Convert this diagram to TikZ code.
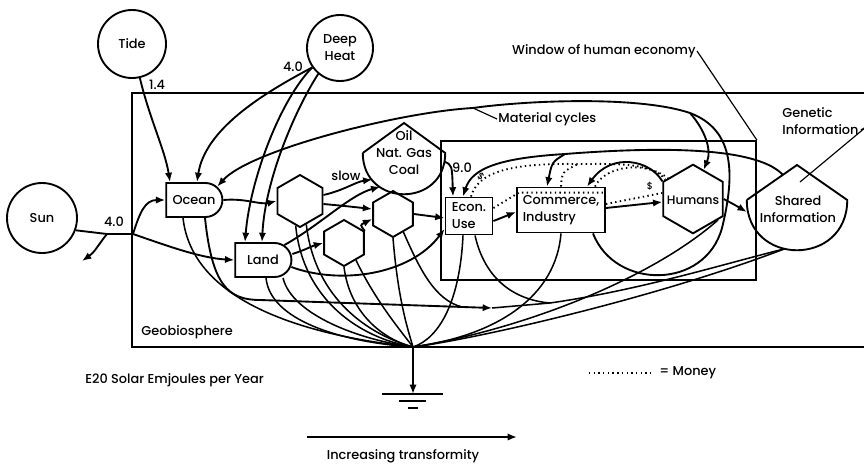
\documentclass[tikz,border=0pt]{standalone}
\usepackage{fontspec}
\setmainfont{Poppins}[UprightFont=*-Medium]
\usetikzlibrary{arrows.meta,positioning,calc,shapes.geometric,shapes.misc}
\newcommand\figfont{\fontsize{11}{14.5}\selectfont}
\tikzset{
  source/.style={
    draw,
    circle,
    line width=1.6pt,
    inner sep=0pt,
    align=center,
    font=\figfont
  },
  producer/.style={
    draw,
    rounded rectangle,
    rounded rectangle left arc=none,
    minimum width=19.2mm,
    minimum height=10.2mm,
    line width=1.6pt,
    font=\figfont
  },
  consumer/.style={
    draw,
    regular polygon,
    regular polygon sides=6,
    shape border rotate=30,
    inner sep=0pt,
    line width=1.6pt,
    font=\figfont
  },
  unitbox/.style={
    draw,
    rectangle,
    align=left,
    inner sep=2pt,
    line width=1.6pt,
    font=\figfont
  },
  tank/.style={circle, inner sep=0pt, align=center, font=\figfont},
  frame/.style={draw, rectangle, inner sep=0pt, line width=1.5pt},
  flow/.style={-{Latex[length=2.8mm,width=2.2mm]}, line width=1.6pt},
  plain/.style={line width=1.6pt},
  wire/.style={line width=1.3pt},
  lead/.style={line width=1pt},
  money/.style={line width=1.6pt, dash pattern=on 1.2pt off 2.8pt},
  lbl/.style={font=\figfont, inner sep=1pt}
}

\begin{document}
\begin{tikzpicture}[x=0.3mm, y=-0.3mm]
  \useasboundingbox (0,0) rectangle (864,464);

  % frames
  \node[frame, minimum width=221.4mm, minimum height=76.2mm] (geo) at (501,220) {};
  \node[frame, minimum width=94.5mm, minimum height=41.7mm] (window) at (598.5,210.5) {};

  % sources
  \node[source, minimum size=20.4mm] (tide) at (132,44) {Tide};
  \node[source, minimum size=19.8mm] (deep) at (340,48) {Deep\\Heat};
  \node[source, minimum size=21mm] (sun) at (42,218) {Sun};

  % producers, consumers, storages
  \node[producer] (ocean) at (194,200) {Ocean};
  \node[producer] (land) at (263,260) {Land};
  \node[consumer, minimum size=15.6mm] (hexa) at (300,201) {};
  \node[consumer, minimum size=13.8mm] (hexb) at (344,243) {};
  \node[consumer, minimum size=13.8mm] (hexc) at (393,214) {};
  \node[tank, minimum size=24.6mm] (oil) at (404,153) {Oil\\Nat. Gas\\Coal};
  \draw[plain] (oil.west) -- ([shift={(0,-30)}]oil.center) -- (oil.east)
    .. controls ([shift={(0,55)}]oil.east) and ([shift={(0,55)}]oil.west) .. (oil.west);
  \node[unitbox, minimum width=14.1mm, minimum height=11.1mm] (econ) at (469,216) {Econ.\\Use};
  \node[unitbox, minimum width=26.4mm, minimum height=13.5mm] (comm) at (561,210) {Commerce,\\Industry};
  \node[consumer, minimum size=20.6mm] (humans) at (693,199) {};
  \node[lbl, font=\fontsize{10.5}{12}\selectfont] (humtxt) at (693,200) {Humans};
  \node[tank, minimum size=30mm] (shared) at (797,200) {};
  \draw[plain] (shared.west) -- ([shift={(0,-35)}]shared.center) -- (shared.east)
    .. controls ([shift={(0,67)}]shared.east) and ([shift={(0,67)}]shared.west) .. (shared.west);
  \node[lbl, align=center] (sharedtxt) at (798,209) {Shared\\Information};

  % outside sources
  \coordinate (sunj) at (107,234);
  \coordinate (sunk) at (133,234);
  \coordinate (sunout) at (82,261);
  \draw[plain] (sun.-20) -- (sunj) -- (sunk);
  \draw[flow] (sunj) .. controls (98,245) and (95,252) .. (sunout);
  \draw[flow] (sunk) .. controls (140,212) and (145,200) .. (ocean.west);
  \draw[flow] (sunk) .. controls (165,245) and (200,258) .. (land.west);
  \draw[flow] (tide.-77) .. controls (150,120) and (165,150) .. ([shift={(-24,0)}]ocean.north);
  \draw[flow] (deep.215) .. controls (260,95) and (205,130) .. ([shift={(3,0)}]ocean.north);
  \draw[flow] (deep.215) .. controls (280,100) and (250,180) .. ([shift={(-18,0)}]land.north);
  \draw[flow] (deep.230) .. controls (295,110) and (265,180) .. ([shift={(-1,0)}]land.north);
  \node[lbl] (sunv) at (114,222) {4.0};
  \node[lbl] (tidev) at (157,85) {1.4};
  \node[lbl] (deepv) at (293,67) {4.0};

  % production chain
  \draw[flow] (ocean.east) .. controls (245,198) and (260,205) .. (hexa.west);
  \draw[flow] ([shift={(0,-6)}]land.east) .. controls (305,250) and (312,246) .. (hexb.west);
  \draw[flow] ([shift={(0,-6)}]hexa.east) .. controls (345,190) and (355,182) .. (oil.-140);
  \node[lbl] (slowlbl) at (346,176) {slow};
  \draw[flow] ([shift={(0,3)}]hexa.east) .. controls (345,206) .. ([shift={(0,-5)}]hexc.west);
  \draw[flow] (hexb.30) .. controls (360,225) .. ([shift={(0,5)}]hexc.west);
  \draw[flow] (land.35) .. controls (320,225) and (350,195) .. (oil.-125);
  \draw[flow] (hexc.east) -- ([shift={(0,2)}]econ.west);
  \draw[flow] ([shift={(-1,7)}]land.east) .. controls (340,285) and (410,275) .. ([shift={(0,13)}]econ.west);
  \draw[flow] (oil.-12) .. controls (452,165) .. ([shift={(-16,0)}]econ.north);
  \node[lbl] (oilv) at (462,168) {9.0};

  % human economy
  \draw[flow] ([shift={(0,5)}]econ.east) -- ([shift={(0,2)}]comm.west);
  \draw[flow] ([shift={(0,-2)}]comm.east) -- ([shift={(0,3)}]humans.west);
  \draw[flow] (humans.east) .. controls (735,205) .. ([shift={(0,12)}]shared.west);
  \coordinate (fbtop) at (565,154);
  \draw[flow] ([shift={(-14,-25)}]shared.center) .. controls (760,150) and (680,145) .. (fbtop)
    .. controls (500,158) and (472,168) .. ([shift={(-6,0)}]econ.north);
  \draw[flow] (fbtop) .. controls (552,162) .. ([shift={(-14,0)}]comm.north);
  \draw[flow] (humans.150) .. controls (650,160) and (612,152) .. ([shift={(26,0)}]comm.north);

  % money
  \coordinate (mjoin) at (578,164);
  \draw[money] ([shift={(2,0)}]econ.north) .. controls (478,172) and (510,163) .. (mjoin)
    .. controls (615,164) and (645,162) .. (humans.140);
  \draw[money] (comm.north) .. controls (562,172) .. (mjoin);
  \draw[money] ([shift={(34,0)}]comm.north) .. controls (605,165) and (650,160) .. (humans.145);
  \draw[money] ([shift={(0,-8)}]econ.east) -- ([shift={(3,6)}]comm.north west) -- ([shift={(-3,6)}]comm.north east);
  \draw[money] ([shift={(0,-6)}]comm.east) -- ([shift={(0,-6)}]humans.west);
  \node[lbl, rotate=-35, font=\footnotesize] (dolecon) at (481,177) {\$};
  \node[lbl, font=\footnotesize] (dolhum) at (650,186) {\$};

  % material cycles
  \coordinate (mcA) at (473,108);
  \coordinate (mcC) at (690,113);
  \draw[flow] ([shift={(32,0)}]comm.south) .. controls (615,290) and (705,290) .. (722,228)
    .. controls (735,175) and (735,130) .. (mcC)
    .. controls (640,96) and (530,100) .. (mcA)
    .. controls (400,112) and (250,150) .. (ocean.30);
  \draw[flow] (mcC) .. controls (705,130) and (712,150) .. (humans.70);
  \node[lbl, anchor=west] (mclbl) at (497,119) {Material cycles};
  \draw[lead] (mcA) -- (mclbl.west);

  % flows to sink and information
  \coordinate (sink) at (413,347);
  \coordinate (gnd) at (413,394);
  \coordinate (otip) at (492,308);
  \coordinate (hjoin) at (462,307);
  \coordinate (ojoin) at (550,303);
  \draw[flow] ([shift={(11,0)}]ocean.south) .. controls (212,285) and (228,300) .. (260,300) -- (otip);
  \draw[wire] (otip) -- (ojoin) .. controls (640,290) and (720,265) .. (shared.-104);
  \draw[wire] ([shift={(6,0)}]econ.south) .. controls (485,280) and (515,300) .. (ojoin);
  \draw[wire] (hexc.-60) .. controls (420,270) and (435,300) .. (hjoin);
  \draw[wire] ([shift={(-11,0)}]ocean.south) .. controls (192,300) and (300,335) .. (sink);
  \draw[wire] ([shift={(3,0)}]land.south) .. controls (270,320) and (340,342) .. (sink);
  \draw[wire] ([shift={(20,0)}]land.south) .. controls (292,315) and (360,340) .. (sink);
  \draw[wire] (hexa.-100) .. controls (303,300) and (360,338) .. (sink);
  \draw[wire] (hexa.-75) .. controls (315,300) and (370,335) .. (sink);
  \draw[wire] (hexb.south) .. controls (350,315) and (385,340) .. (sink);
  \draw[wire] (hexb.-55) .. controls (375,300) and (400,330) .. (sink);
  \draw[wire] (hexc.south) .. controls (398,300) and (408,330) .. (sink);
  \draw[wire] ([shift={(-6,0)}]econ.south) .. controls (460,300) and (440,338) .. (sink);
  \draw[wire] (comm.south) .. controls (556,295) and (500,335) .. (sink);
  \draw[wire] (humans.-40) .. controls (650,280) and (520,330) .. (sink);
  \draw[wire] (shared.-104) .. controls (650,300) and (470,340) .. (sink);
  \draw[flow] (sink) -- (gnd);
  \draw[plain] ([shift={(-31,0)}]gnd) -- ([shift={(30,0)}]gnd);
  \draw[plain] ([shift={(-14,7)}]gnd) -- ([shift={(13,7)}]gnd);
  \draw[plain] ([shift={(-5,14)}]gnd) -- ([shift={(5,14)}]gnd);

  % labels
  \node[lbl, anchor=east] (winlbl) at (697,51) {Window of human economy};
  \draw[lead] (winlbl.east) -- (window.north east);
  \node[lbl, align=left, anchor=west] (genlbl) at (781,121) {Genetic\\Information};
  \coordinate (genpt) at (800,182);
  \coordinate (genend) at (866,127);
  \draw[lead] (genpt) -- (genend);
  \draw[lead] ([shift={(1,9)}]genlbl.east) -- (genend);
  \node[lbl, anchor=west] (geolbl) at (140,332) {Geobiosphere};
  \node[lbl, anchor=west] (unitlbl) at (84,380) {E20 Solar Emjoules per Year};
  \coordinate (mleft) at (589,373);
  \node[lbl, anchor=west] (moneylbl) at (658,373) {= Money};
  \draw[money] (mleft) -- ([shift={(-6,0)}]moneylbl.west);
  \coordinate (ta) at (307,437);
  \coordinate (tb) at (517,437);
  \draw[flow] (ta) -- (tb);
  \node[lbl] (trlbl) at (403,456) {Increasing transformity};
\end{tikzpicture}
\end{document}
